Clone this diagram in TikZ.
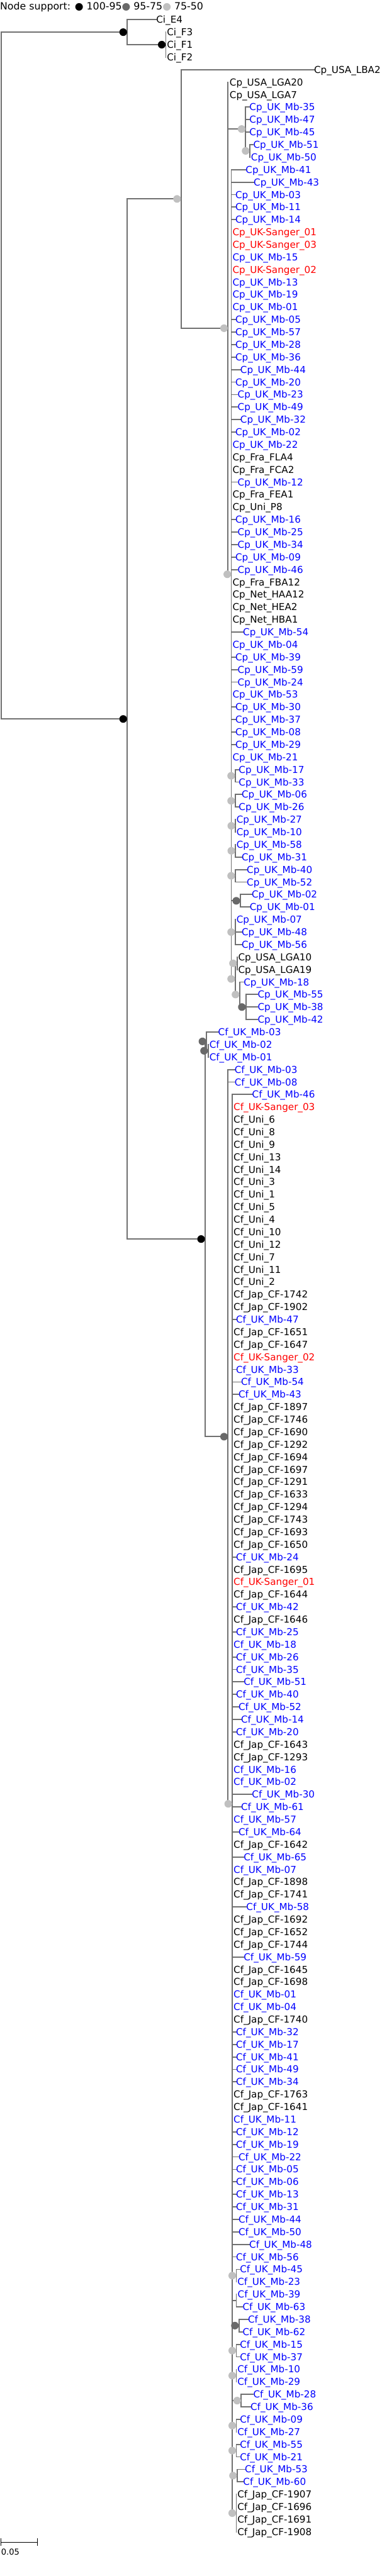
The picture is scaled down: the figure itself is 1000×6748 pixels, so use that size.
\documentclass[tikz,border=0pt]{standalone}
\usepackage{fontspec}
\setmainfont{DejaVu Sans}
\definecolor{brc}{HTML}{707070}
\definecolor{lgc}{HTML}{C0C0C0}
\definecolor{dgc}{HTML}{696969}
\newcommand\Yv[1]{51.5+32.74*(#1)}
\newcommand\cpmb[1]{Cp\_UK\_Mb-#1}
\newcommand\cfmb[1]{Cf\_UK\_Mb-#1}
\newcommand\cfjp[1]{Cf\_Jap\_CF-#1}
\newcommand\cfun[1]{Cf\_Uni\_#1}
% leaf with visible branch: idx, tip x, parent, colour, text
\newcommand\leafb[5]{\coordinate (t#1) at (#2,{\Yv{#1}});
  \draw[br] (#3 |- t#1) -- (t#1);
  \node[lab,text=#4] (l#1) at (#2,{\Yv{#1}+9.1}) {#5};}
% leaf with zero-length branch: idx, label x, colour, text
\newcommand\leafz[4]{\coordinate (t#1) at (#2,{\Yv{#1}});
  \node[lab,text=#3] (l#1) at (#2,{\Yv{#1}+9.1}) {#4};}
\newcommand\inod[3]{\coordinate (#1) at (#2,{\Yv{#3}});}
\newcommand\ndot[2]{\fill[#2] ([xshift=-10.5pt]#1) circle (10pt);}
\begin{document}
\begin{tikzpicture}[x=1pt,y=-1pt,
  br/.style={draw=brc,line width=3pt,line cap=rect},
  lab/.style={inner sep=0pt,anchor=base west,font=\fontsize{25}{30}\selectfont}]
\useasboundingbox (0,0) rectangle (1000,6748);

% legend
\node[inner sep=0pt,anchor=base west,font=\fontsize{26}{30}\selectfont] (legend) at (0,25)
  {Node support: \textcolor{black}{●} 100-95\textcolor{dgc}{●} 95-75\textcolor{lgc}{●} 75-50};

% ---------- internal nodes ----------
\inod{root}{3}{28.4765625}
\inod{ci}{333}{1}
\inod{cif}{434}{2}
\inod{A}{333}{55.953125}
\inod{cp}{474}{14.34375}
\inod{cp2}{597}{24.6875}
\inod{n35}{643}{8.75}
\inod{n51}{653.5}{10.5}
\inod{cp4}{605.5}{44.375}
\inod{s1733}{615.6}{60.5}
\inod{s0626}{615.6}{62.5}
\inod{s2710}{616}{64.5}
\inod{s5831}{616}{66.5}
\inod{s4052}{615.6}{68.5}
\inod{s0201}{629}{70.5}
\inod{s0748}{615.6}{73}
\inod{cp5}{615.6}{76.75}
\inod{lga}{620.5}{75.5}
\inod{cp6}{627}{78}
\inod{n5538}{643.7}{79}
\inod{cf}{537}{97.5625}
\inod{cf1}{540.5}{81.75}
\inod{cf0201}{544.7}{82.5}
\inod{cf2}{597}{113.375}
\inod{cf3}{608}{142.75}
\inod{c4523}{618.5}{180.5}
\inod{c3963}{618.5}{182.5}
\inod{c3862}{625.4}{184.5}
\inod{c1537}{618.5}{186.5}
\inod{c1029}{618.5}{188.5}
\inod{c2836}{631.4}{190.5}
\inod{c0927}{618.5}{192.5}
\inod{c5521}{618.5}{194.5}
\inod{c5360}{620.5}{196.5}
\inod{j4}{618.5}{199.5}

% ---------- root, Ci ----------
\draw[br] (root |- ci) -- (root |- A);
\draw[br] (root |- ci) -- (ci);
\draw[br] (root |- A) -- (A);
\leafb{0}{409}{ci}{black}{Ci\_E4}
\draw[br] (ci |- t0) -- (ci |- cif);
\draw[br] (ci |- cif) -- (cif);
\leafz{1}{437}{black}{Ci\_F3}
\leafz{2}{437}{black}{Ci\_F1}
\leafz{3}{437}{black}{Ci\_F2}
\draw[br] (cif |- t1) -- (cif |- t3);

% ---------- A ----------
\draw[br] (A |- cp) -- (A |- cf);
\draw[br] (A |- cp) -- (cp);
\draw[br] (A |- cf) -- (cf);

% ---------- Cp ----------
\leafb{4}{822}{cp}{black}{Cp\_USA\_LBA2}
\draw[br] (cp |- t4) -- (cp |- cp2);
\draw[br] (cp |- cp2) -- (cp2);
\leafz{5}{601}{black}{Cp\_USA\_LGA20}
\leafz{6}{601}{black}{Cp\_USA\_LGA7}
\draw[br] (cp2 |- t5) -- (cp2 |- cp4);
\draw[br] (cp2 |- n35) -- (n35);
\draw[br] (cp2 |- cp4) -- (cp4);
\leafb{7}{653}{n35}{blue}{\cpmb{35}}
\leafb{8}{653}{n35}{blue}{\cpmb{47}}
\leafb{9}{653}{n35}{blue}{\cpmb{45}}
\draw[br] (n35 |- t7) -- (n35 |- n51);
\draw[br] (n35 |- n51) -- (n51);
\leafb{10}{663}{n51}{blue}{\cpmb{51}}
\leafz{11}{657}{blue}{\cpmb{50}}
\draw[br] (n51 |- t10) -- (n51 |- t11);

\leafb{12}{643}{cp4}{blue}{\cpmb{41}}
\draw[br] (cp4 |- t12) -- (cp4 |- cp5);
\leafb{13}{664}{cp4}{blue}{\cpmb{43}}
\leafb{14}{616}{cp4}{blue}{\cpmb{03}}
\leafb{15}{616}{cp4}{blue}{\cpmb{11}}
\leafb{16}{616}{cp4}{blue}{\cpmb{14}}
\leafz{17}{608.6}{red}{Cp\_UK-Sanger\_01}
\leafz{18}{608.6}{red}{Cp\_UK-Sanger\_03}
\leafz{19}{608.6}{blue}{\cpmb{15}}
\leafz{20}{608.6}{red}{Cp\_UK-Sanger\_02}
\leafz{21}{608.6}{blue}{\cpmb{13}}
\leafz{22}{608.6}{blue}{\cpmb{19}}
\leafz{23}{608.6}{blue}{\cpmb{01}}
\leafb{24}{616}{cp4}{blue}{\cpmb{05}}
\leafb{25}{616}{cp4}{blue}{\cpmb{57}}
\leafb{26}{616}{cp4}{blue}{\cpmb{28}}
\leafb{27}{616}{cp4}{blue}{\cpmb{36}}
\leafb{28}{629}{cp4}{blue}{\cpmb{44}}
\leafb{29}{616}{cp4}{blue}{\cpmb{20}}
\leafb{30}{622}{cp4}{blue}{\cpmb{23}}
\leafb{31}{622}{cp4}{blue}{\cpmb{49}}
\leafb{32}{629}{cp4}{blue}{\cpmb{32}}
\leafb{33}{616}{cp4}{blue}{\cpmb{02}}
\leafz{34}{608.6}{blue}{\cpmb{22}}
\leafz{35}{608.6}{black}{Cp\_Fra\_FLA4}
\leafz{36}{608.6}{black}{Cp\_Fra\_FCA2}
\leafb{37}{622}{cp4}{blue}{\cpmb{12}}
\leafz{38}{608.6}{black}{Cp\_Fra\_FEA1}
\leafz{39}{608.6}{black}{Cp\_Uni\_P8}
\leafb{40}{616}{cp4}{blue}{\cpmb{16}}
\leafb{41}{622}{cp4}{blue}{\cpmb{25}}
\leafb{42}{622}{cp4}{blue}{\cpmb{34}}
\leafb{43}{616}{cp4}{blue}{\cpmb{09}}
\leafb{44}{622}{cp4}{blue}{\cpmb{46}}
\leafz{45}{608.6}{black}{Cp\_Fra\_FBA12}
\leafz{46}{608.6}{black}{Cp\_Net\_HAA12}
\leafz{47}{608.6}{black}{Cp\_Net\_HEA2}
\leafz{48}{608.6}{black}{Cp\_Net\_HBA1}
\leafb{49}{636}{cp4}{blue}{\cpmb{54}}
\leafz{50}{608.6}{blue}{\cpmb{04}}
\leafb{51}{616}{cp4}{blue}{\cpmb{39}}
\leafb{52}{622}{cp4}{blue}{\cpmb{59}}
\leafb{53}{622}{cp4}{blue}{\cpmb{24}}
\leafz{54}{608.6}{blue}{\cpmb{53}}
\leafb{55}{616}{cp4}{blue}{\cpmb{30}}
\leafb{56}{616}{cp4}{blue}{\cpmb{37}}
\leafb{57}{616}{cp4}{blue}{\cpmb{08}}
\leafb{58}{616}{cp4}{blue}{\cpmb{29}}
\leafz{59}{608.6}{blue}{\cpmb{21}}

\draw[br] (cp4 |- s1733) -- (s1733);
\leafb{60}{625}{s1733}{blue}{\cpmb{17}}
\leafb{61}{625}{s1733}{blue}{\cpmb{33}}
\draw[br] (s1733 |- t60) -- (s1733 |- t61);
\draw[br] (cp4 |- s0626) -- (s0626);
\leafb{62}{632.5}{s0626}{blue}{\cpmb{06}}
\leafb{63}{625}{s0626}{blue}{\cpmb{26}}
\draw[br] (s0626 |- t62) -- (s0626 |- t63);
\draw[br] (cp4 |- s2710) -- (s2710);
\leafz{64}{619}{blue}{\cpmb{27}}
\leafz{65}{619}{blue}{\cpmb{10}}
\draw[br] (s2710 |- t64) -- (s2710 |- t65);
\draw[br] (cp4 |- s5831) -- (s5831);
\leafz{66}{619}{blue}{\cpmb{58}}
\leafb{67}{632.5}{s5831}{blue}{\cpmb{31}}
\draw[br] (s5831 |- t66) -- (s5831 |- t67);
\draw[br] (cp4 |- s4052) -- (s4052);
\leafb{68}{646}{s4052}{blue}{\cpmb{40}}
\leafb{69}{646}{s4052}{blue}{\cpmb{52}}
\draw[br] (s4052 |- t68) -- (s4052 |- t69);
\draw[br] (cp4 |- s0201) -- (s0201);
\leafb{70}{659}{s0201}{blue}{\cpmb{02}}
\leafb{71}{653.5}{s0201}{blue}{\cpmb{01}}
\draw[br] (s0201 |- t70) -- (s0201 |- t71);
\draw[br] (cp4 |- s0748) -- (s0748);
\leafz{72}{619}{blue}{\cpmb{07}}
\leafb{73}{632.5}{s0748}{blue}{\cpmb{48}}
\leafb{74}{632.5}{s0748}{blue}{\cpmb{56}}
\draw[br] (s0748 |- t72) -- (s0748 |- t74);
\draw[br] (cp4 |- cp5) -- (cp5);
\draw[br] (cp5 |- lga) -- (cp5 |- cp6);
\draw[br] (cp5 |- lga) -- (lga);
\draw[br] (cp5 |- cp6) -- (cp6);
\leafz{75}{623.5}{black}{Cp\_USA\_LGA10}
\leafz{76}{623.5}{black}{Cp\_USA\_LGA19}
\draw[br] (lga |- t75) -- (lga |- t76);
\leafb{77}{638}{cp6}{blue}{\cpmb{18}}
\draw[br] (cp6 |- t77) -- (cp6 |- n5538);
\draw[br] (cp6 |- n5538) -- (n5538);
\leafb{78}{674.6}{n5538}{blue}{\cpmb{55}}
\leafb{79}{674.6}{n5538}{blue}{\cpmb{38}}
\leafb{80}{674.6}{n5538}{blue}{\cpmb{42}}
\draw[br] (n5538 |- t78) -- (n5538 |- t80);

% ---------- Cf ----------
\draw[br] (cf |- cf1) -- (cf |- cf2);
\draw[br] (cf |- cf1) -- (cf1);
\draw[br] (cf |- cf2) -- (cf2);
\leafb{81}{571}{cf1}{blue}{\cfmb{03}}
\draw[br] (cf1 |- t81) -- (cf1 |- cf0201);
\draw[br] (cf1 |- cf0201) -- (cf0201);
\leafz{82}{548}{blue}{\cfmb{02}}
\leafz{83}{548}{blue}{\cfmb{01}}
\draw[br] (cf0201 |- t82) -- (cf0201 |- t83);
\leafb{84}{614}{cf2}{blue}{\cfmb{03}}
\leafb{85}{614}{cf2}{blue}{\cfmb{08}}
\draw[br] (cf2 |- t84) -- (cf2 |- cf3);
\draw[br] (cf2 |- cf3) -- (cf3);

\leafb{86}{660}{cf3}{blue}{\cfmb{46}}
\draw[br] (cf3 |- t86) -- (cf3 |- j4);
\leafz{87}{611.4}{red}{Cf\_UK-Sanger\_03}
\leafz{88}{611.4}{black}{\cfun{6}}
\leafz{89}{611.4}{black}{\cfun{8}}
\leafz{90}{611.4}{black}{\cfun{9}}
\leafz{91}{611.4}{black}{\cfun{13}}
\leafz{92}{611.4}{black}{\cfun{14}}
\leafz{93}{611.4}{black}{\cfun{3}}
\leafz{94}{611.4}{black}{\cfun{1}}
\leafz{95}{611.4}{black}{\cfun{5}}
\leafz{96}{611.4}{black}{\cfun{4}}
\leafz{97}{611.4}{black}{\cfun{10}}
\leafz{98}{611.4}{black}{\cfun{12}}
\leafz{99}{611.4}{black}{\cfun{7}}
\leafz{100}{611.4}{black}{\cfun{11}}
\leafz{101}{611.4}{black}{\cfun{2}}
\leafz{102}{611.4}{black}{\cfjp{1742}}
\leafz{103}{611.4}{black}{\cfjp{1902}}
\leafb{104}{617.7}{cf3}{blue}{\cfmb{47}}
\leafz{105}{611.4}{black}{\cfjp{1651}}
\leafz{106}{611.4}{black}{\cfjp{1647}}
\leafz{107}{611.4}{red}{Cf\_UK-Sanger\_02}
\leafb{108}{617.7}{cf3}{blue}{\cfmb{33}}
\leafb{109}{631}{cf3}{blue}{\cfmb{54}}
\leafb{110}{624.4}{cf3}{blue}{\cfmb{43}}
\leafz{111}{611.4}{black}{\cfjp{1897}}
\leafz{112}{611.4}{black}{\cfjp{1746}}
\leafz{113}{611.4}{black}{\cfjp{1690}}
\leafz{114}{611.4}{black}{\cfjp{1292}}
\leafz{115}{611.4}{black}{\cfjp{1694}}
\leafz{116}{611.4}{black}{\cfjp{1697}}
\leafz{117}{611.4}{black}{\cfjp{1291}}
\leafz{118}{611.4}{black}{\cfjp{1633}}
\leafz{119}{611.4}{black}{\cfjp{1294}}
\leafz{120}{611.4}{black}{\cfjp{1743}}
\leafz{121}{611.4}{black}{\cfjp{1693}}
\leafz{122}{611.4}{black}{\cfjp{1650}}
\leafb{123}{617.7}{cf3}{blue}{\cfmb{24}}
\leafz{124}{611.4}{black}{\cfjp{1695}}
\leafz{125}{611.4}{red}{Cf\_UK-Sanger\_01}
\leafz{126}{611.4}{black}{\cfjp{1644}}
\leafb{127}{617.7}{cf3}{blue}{\cfmb{42}}
\leafz{128}{611.4}{black}{\cfjp{1646}}
\leafb{129}{617.7}{cf3}{blue}{\cfmb{25}}
\leafz{130}{611.4}{blue}{\cfmb{18}}
\leafb{131}{617.7}{cf3}{blue}{\cfmb{26}}
\leafb{132}{617.7}{cf3}{blue}{\cfmb{35}}
\leafb{133}{638}{cf3}{blue}{\cfmb{51}}
\leafb{134}{617.7}{cf3}{blue}{\cfmb{40}}
\leafb{135}{624.4}{cf3}{blue}{\cfmb{52}}
\leafb{136}{631}{cf3}{blue}{\cfmb{14}}
\leafb{137}{617.7}{cf3}{blue}{\cfmb{20}}
\leafz{138}{611.4}{black}{\cfjp{1643}}
\leafz{139}{611.4}{black}{\cfjp{1293}}
\leafz{140}{611.4}{blue}{\cfmb{16}}
\leafz{141}{611.4}{blue}{\cfmb{02}}
\leafb{142}{659.5}{cf3}{blue}{\cfmb{30}}
\leafb{143}{631}{cf3}{blue}{\cfmb{61}}
\leafz{144}{611.4}{blue}{\cfmb{57}}
\leafb{145}{624.4}{cf3}{blue}{\cfmb{64}}
\leafz{146}{611.4}{black}{\cfjp{1642}}
\leafb{147}{638}{cf3}{blue}{\cfmb{65}}
\leafz{148}{611.4}{blue}{\cfmb{07}}
\leafz{149}{611.4}{black}{\cfjp{1898}}
\leafz{150}{611.4}{black}{\cfjp{1741}}
\leafb{151}{644.7}{cf3}{blue}{\cfmb{58}}
\leafz{152}{611.4}{black}{\cfjp{1692}}
\leafz{153}{611.4}{black}{\cfjp{1652}}
\leafz{154}{611.4}{black}{\cfjp{1744}}
\leafb{155}{638}{cf3}{blue}{\cfmb{59}}
\leafz{156}{611.4}{black}{\cfjp{1645}}
\leafz{157}{611.4}{black}{\cfjp{1698}}
\leafz{158}{611.4}{blue}{\cfmb{01}}
\leafz{159}{611.4}{blue}{\cfmb{04}}
\leafz{160}{611.4}{black}{\cfjp{1740}}
\leafb{161}{617.7}{cf3}{blue}{\cfmb{32}}
\leafb{162}{617.7}{cf3}{blue}{\cfmb{17}}
\leafb{163}{617.7}{cf3}{blue}{\cfmb{41}}
\leafb{164}{617.7}{cf3}{blue}{\cfmb{49}}
\leafb{165}{617.7}{cf3}{blue}{\cfmb{34}}
\leafz{166}{611.4}{black}{\cfjp{1763}}
\leafz{167}{611.4}{black}{\cfjp{1641}}
\leafz{168}{611.4}{blue}{\cfmb{11}}
\leafb{169}{617.7}{cf3}{blue}{\cfmb{12}}
\leafb{170}{617.7}{cf3}{blue}{\cfmb{19}}
\leafb{171}{624.4}{cf3}{blue}{\cfmb{22}}
\leafb{172}{617.7}{cf3}{blue}{\cfmb{05}}
\leafb{173}{617.7}{cf3}{blue}{\cfmb{06}}
\leafb{174}{617.7}{cf3}{blue}{\cfmb{13}}
\leafb{175}{617.7}{cf3}{blue}{\cfmb{31}}
\leafb{176}{624.4}{cf3}{blue}{\cfmb{44}}
\leafb{177}{624.4}{cf3}{blue}{\cfmb{50}}
\leafb{178}{652.5}{cf3}{blue}{\cfmb{48}}
\leafb{179}{617.7}{cf3}{blue}{\cfmb{56}}

\draw[br] (cf3 |- c4523) -- (c4523);
\leafb{180}{628}{c4523}{blue}{\cfmb{45}}
\leafz{181}{621.5}{blue}{\cfmb{23}}
\draw[br] (c4523 |- t180) -- (c4523 |- t181);
\draw[br] (cf3 |- c3963) -- (c3963);
\leafz{182}{622}{blue}{\cfmb{39}}
\leafb{183}{635}{c3963}{blue}{\cfmb{63}}
\draw[br] (c3963 |- t182) -- (c3963 |- t183);
\draw[br] (cf3 |- c3862) -- (c3862);
\leafb{184}{649}{c3862}{blue}{\cfmb{38}}
\leafb{185}{635}{c3862}{blue}{\cfmb{62}}
\draw[br] (c3862 |- t184) -- (c3862 |- t185);
\draw[br] (cf3 |- c1537) -- (c1537);
\leafb{186}{628}{c1537}{blue}{\cfmb{15}}
\leafb{187}{628}{c1537}{blue}{\cfmb{37}}
\draw[br] (c1537 |- t186) -- (c1537 |- t187);
\draw[br] (cf3 |- c1029) -- (c1029);
\leafz{188}{621.5}{blue}{\cfmb{10}}
\leafz{189}{621.5}{blue}{\cfmb{29}}
\draw[br] (c1029 |- t188) -- (c1029 |- t189);
\draw[br] (cf3 |- c2836) -- (c2836);
\leafb{190}{663}{c2836}{blue}{\cfmb{28}}
\leafb{191}{655.6}{c2836}{blue}{\cfmb{36}}
\draw[br] (c2836 |- t190) -- (c2836 |- t191);
\draw[br] (cf3 |- c0927) -- (c0927);
\leafb{192}{628}{c0927}{blue}{\cfmb{09}}
\leafz{193}{621.5}{blue}{\cfmb{27}}
\draw[br] (c0927 |- t192) -- (c0927 |- t193);
\draw[br] (cf3 |- c5521) -- (c5521);
\leafb{194}{628}{c5521}{blue}{\cfmb{55}}
\leafb{195}{628}{c5521}{blue}{\cfmb{21}}
\draw[br] (c5521 |- t194) -- (c5521 |- t195);
\draw[br] (cf3 |- c5360) -- (c5360);
\leafb{196}{641}{c5360}{blue}{\cfmb{53}}
\leafb{197}{636.5}{c5360}{blue}{\cfmb{60}}
\draw[br] (c5360 |- t196) -- (c5360 |- t197);
\draw[br] (cf3 |- j4) -- (j4);
\leafz{198}{621.5}{black}{\cfjp{1907}}
\leafz{199}{621.5}{black}{\cfjp{1696}}
\leafz{200}{621.5}{black}{\cfjp{1691}}
\leafz{201}{621.5}{black}{\cfjp{1908}}
\draw[br] (j4 |- t198) -- (j4 |- t201);

% ---------- support dots ----------
\ndot{ci}{black}
\ndot{cif}{black}
\ndot{A}{black}
\ndot{cf}{black}
\ndot{cp}{lgc}
\ndot{cp2}{lgc}
\ndot{n35}{lgc}
\ndot{n51}{lgc}
\ndot{cp4}{lgc}
\ndot{s1733}{lgc}
\ndot{s0626}{lgc}
\ndot{s2710}{lgc}
\ndot{s5831}{lgc}
\ndot{s4052}{lgc}
\ndot{s0201}{dgc}
\ndot{s0748}{lgc}
\ndot{cp5}{lgc}
\ndot{lga}{lgc}
\ndot{cp6}{lgc}
\ndot{n5538}{dgc}
\ndot{cf1}{dgc}
\ndot{cf0201}{dgc}
\ndot{cf2}{dgc}
\ndot{cf3}{lgc}
\ndot{c4523}{lgc}
\ndot{c3862}{dgc}
\ndot{c1537}{lgc}
\ndot{c1029}{lgc}
\ndot{c2836}{lgc}
\ndot{c0927}{lgc}
\ndot{c5521}{lgc}
\ndot{c5360}{lgc}
\ndot{j4}{lgc}

% ---------- scale bar ----------
\coordinate (sb0) at (3,6659.5);
\coordinate (sb1) at (98,6659.5);
\draw[black,line width=2pt] (sb0) -- (sb1);
\draw[black,line width=2pt] ([yshift=10pt]sb0) -- ([yshift=-10pt]sb0);
\draw[black,line width=2pt] ([yshift=10pt]sb1) -- ([yshift=-10pt]sb1);
\node[inner sep=0pt,anchor=base west,font=\fontsize{21.5}{24}\selectfont] (sblab) at (3,6692) {0.05};
\end{tikzpicture}
\end{document}
